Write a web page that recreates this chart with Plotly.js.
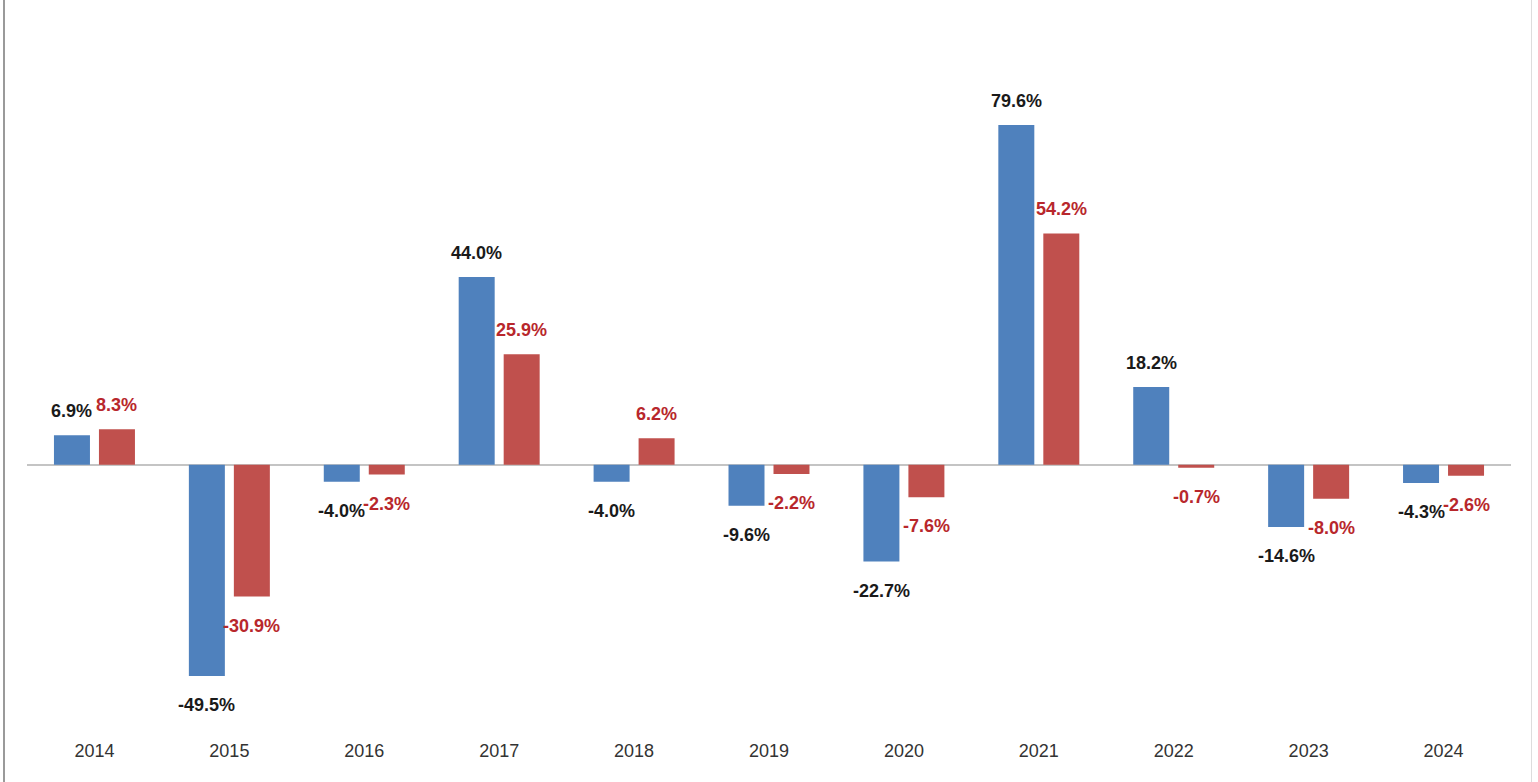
<!DOCTYPE html>
<html>
<head>
<meta charset="utf-8">
<script src="https://cdn.plot.ly/plotly-3.0.1.min.js"></script>
<style>
  html, body { margin: 0; padding: 0; background: #fff; }
  #wrap { position: relative; width: 1538px; height: 782px; }
  #chart { position: absolute; left: 0; top: 0; width: 1538px; height: 782px; }
  #bl { position: absolute; left: 3px; top: 0; width: 2px; height: 782px; background: #9a9a9a; }
  #br { position: absolute; left: 1531px; top: 0; width: 1px; height: 782px; background: #dddddd; }
</style>
</head>
<body>
<div id="wrap">
  <div id="chart"></div>
  <div id="bl"></div>
  <div id="br"></div>
</div>
<script>
const years = ['2014','2015','2016','2017','2018','2019','2020','2021','2022','2023','2024'];
const seriesA = [6.9, -49.5, -4.0, 44.0, -4.0, -9.6, -22.7, 79.6, 18.2, -14.6, -4.3];
const seriesB = [8.3, -30.9, -2.3, 25.9, 6.2, -2.2, -7.6, 54.2, -0.7, -8.0, -2.6];

const blue = '#4F81BD';
const red = '#C0504D';
const labelFont = 'Liberation Sans, Arial, sans-serif';

const traceA = {
  type: 'bar', x: years, y: seriesA, name: 'A',
  marker: { color: blue }, hoverinfo: 'x+y'
};
const traceB = {
  type: 'bar', x: years, y: seriesB, name: 'B',
  marker: { color: red }, hoverinfo: 'x+y'
};

function makeLabels(vals, shiftX, color) {
  return vals.map((v, i) => ({
    x: i, y: v, xref: 'x', yref: 'y',
    text: v.toFixed(1) + '%',
    showarrow: false,
    xshift: shiftX,
    yshift: v >= 0 ? 24 : -29,
    xanchor: 'center', yanchor: 'middle',
    font: { family: labelFont, size: 18, color: color, weight: 'bold' }
  }));
}

const annotations = makeLabels(seriesA, -22.5, '#1a1a1a').concat(makeLabels(seriesB, 22.5, '#b8272c'));

const layout = {
  width: 1538, height: 782,
  margin: { l: 26.5, r: 26.5, t: 20, b: 44, pad: 0 },
  paper_bgcolor: '#ffffff', plot_bgcolor: '#ffffff',
  showlegend: false,
  barmode: 'group', bargap: 0.333, bargroupgap: 0.2,
  xaxis: {
    type: 'category', range: [-0.5, years.length - 0.5], autorange: false,
    showgrid: false, showline: false, ticks: '',
    tickfont: { family: labelFont, size: 18, color: '#333333' },
    fixedrange: true
  },
  yaxis: {
    range: [-64.04, 104.2], autorange: false, showgrid: false, showticklabels: false, ticks: '',
    zeroline: true, zerolinecolor: '#c4c4c4', zerolinewidth: 2,
    fixedrange: true
  },
  annotations: annotations
};

Plotly.newPlot('chart', [traceA, traceB], layout, { displayModeBar: false, staticPlot: true });
</script>
</body>
</html>
